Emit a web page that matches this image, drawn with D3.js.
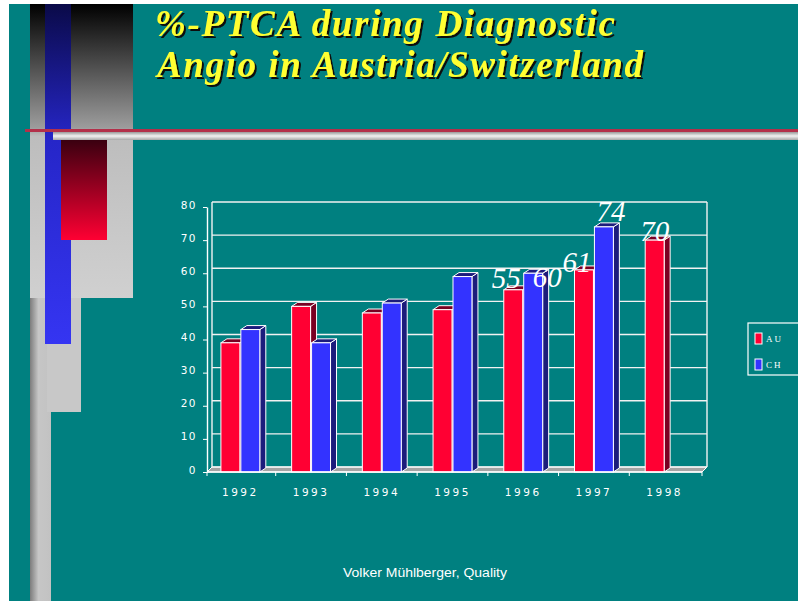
<!DOCTYPE html>
<html lang="en">
<head>
<meta charset="UTF-8">
<title>%-PTCA during Diagnostic Angio</title>
<style>
  body { margin: 0; background: #fff; }
  svg { display: block; }
</style>
</head>
<body>
<div id="slide"></div>
<script src="https://cdn.jsdelivr.net/npm/d3@7"></script>
<script>
// data
const years = ['1992', '1993', '1994', '1995', '1996', '1997', '1998'];
const seriesNames = ['AU', 'CH'];
const auValues = [39, 50, 48, 49, 55, 61, 70];
const chValues = [43, 39, 51, 59, 60, 74, null];
const yTicks = [0, 10, 20, 30, 40, 50, 60, 70, 80];
const labeled = [['1996', 'AU'], ['1996', 'CH'], ['1997', 'AU'], ['1997', 'CH'], ['1998', 'AU']];
const titleLines = ['%-PTCA  during Diagnostic', 'Angio in Austria/Switzerland'];
const footer = 'Volker Mühlberger, Quality';

// layout
const W = 798, H = 601;
const teal = '#008080';
const colors = { AU: '#ff0033', CH: '#3333ff' };
const darks = { AU: '#7a0022', CH: '#1c1c7c' };
const wall = { dx: 5, dy: 5 };
const depth = { dx: 6, dy: 4 };
// hand placed data labels in the original (dx, dy from bar top centre)
const labelNudge = [[-7, -2], [14, 14], [-7, 2], [7, -6], [0, 1]];

const values = { AU: auValues, CH: chValues };

const svg = d3.select('#slide').append('svg')
  .attr('width', W)
  .attr('height', H);

const defs = svg.append('defs');
function grad(id, stops, horizontal) {
  const g = defs.append('linearGradient').attr('id', id)
    .attr('x1', 0).attr('y1', 0)
    .attr('x2', horizontal ? 1 : 0).attr('y2', horizontal ? 0 : 1);
  stops.forEach(s => g.append('stop').attr('offset', s[0]).attr('stop-color', s[1]));
}
grad('gDark', [[0, '#000'], [0.42, '#9c9c9c'], [0.45, '#bdbdbd'], [1, '#d0d0d0']]);
grad('gCol', [[0, '#7c7c7c'], [0.4, '#c6c6c6'], [1, '#c2c2c2']], true);
grad('gBlue', [[0, '#0a0a48'], [0.4, '#2626c8'], [1, '#3535f2']]);
grad('gRed', [[0, '#3a0010'], [1, '#ff0033']]);
grad('gBand', [[0, '#9a9a9a'], [0.5, '#f2f2f2'], [1, '#a8a8a8']]);

defs.append('filter').attr('id', 'shadow')
  .attr('x', '-5%').attr('y', '-20%').attr('width', '110%').attr('height', '140%')
  .append('feDropShadow')
  .attr('dx', 2).attr('dy', 2).attr('stdDeviation', 0.4)
  .attr('flood-color', '#111').attr('flood-opacity', 1);

// slide background and template decoration
svg.append('rect').attr('width', W).attr('height', H).attr('fill', '#fff');
svg.append('rect').attr('x', 9).attr('y', 4).attr('width', W - 9).attr('height', H - 4).attr('fill', teal);
svg.append('rect').attr('x', 30).attr('y', 4).attr('width', 103).attr('height', 294).attr('fill', 'url(#gDark)');
svg.append('rect').attr('x', 30).attr('y', 298).attr('width', 21).attr('height', H - 298).attr('fill', 'url(#gCol)');
svg.append('rect').attr('x', 47).attr('y', 298).attr('width', 34).attr('height', 114).attr('fill', '#c8c8c8');
svg.append('rect').attr('x', 45).attr('y', 4).attr('width', 26).attr('height', 340).attr('fill', 'url(#gBlue)');
svg.append('rect').attr('x', 25).attr('y', 129).attr('width', W - 25).attr('height', 3).attr('fill', '#b3304a');
svg.append('rect').attr('x', 53).attr('y', 132).attr('width', W - 53).attr('height', 8).attr('fill', 'url(#gBand)');
svg.append('rect').attr('x', 61).attr('y', 140).attr('width', 46).attr('height', 100).attr('fill', 'url(#gRed)');

// title, yellow with a hard drop shadow
const title = svg.append('g')
  .attr('filter', 'url(#shadow)')
  .style('font-family', '"Liberation Serif", "Times New Roman", serif')
  .style('font-weight', 'bold')
  .style('font-style', 'italic')
  .style('font-size', '37px');
const titlePos = [[155, 36, 460], [157, 77, 486]];
titleLines.forEach((t, i) => {
  const [tx, ty, len] = titlePos[i];
  title.append('text').attr('x', tx).attr('y', ty)
    .attr('textLength', len).attr('lengthAdjust', 'spacing')
    .attr('fill', '#ffff33').text(t);
});

// scales
const x0 = 207, x1 = 702, yBase = 472;
const y = d3.scaleLinear().domain([0, 80]).range([yBase, 207]);
const x = d3.scaleBand().domain(years).range([x0 - 2, x1 - 2])
  .paddingInner(0.45).paddingOuter(0.225);
const xs = d3.scaleBand().domain(seriesNames).range([0, x.bandwidth()]).paddingInner(0.05);

const chart = svg.append('g');

// floor
chart.append('polygon')
  .attr('points', [[x0, yBase], [x1, yBase], [x1 + wall.dx, yBase - wall.dy], [x0 + wall.dx, yBase - wall.dy]].join(' '))
  .attr('fill', '#a4a4a4')
  .attr('stroke', '#fff')
  .attr('stroke-width', 1);

// back wall grid
chart.selectAll('line.grid').data(yTicks).join('line')
  .attr('class', 'grid')
  .attr('x1', x0 + wall.dx).attr('x2', x1 + wall.dx)
  .attr('y1', d => y(d) - wall.dy).attr('y2', d => y(d) - wall.dy)
  .attr('stroke', '#f2f2f2').attr('stroke-width', 1.4);
[x0 + wall.dx, x1 + wall.dx].forEach(wx => {
  chart.append('line')
    .attr('x1', wx).attr('x2', wx)
    .attr('y1', y(80) - wall.dy).attr('y2', y(0) - wall.dy)
    .attr('stroke', '#f2f2f2').attr('stroke-width', 1.4);
});

// bars
const bars = [];
years.forEach((yr, i) => {
  seriesNames.forEach(s => {
    const v = values[s][i];
    if (v == null) return;
    bars.push({ year: yr, series: s, value: v });
  });
});

const barG = chart.selectAll('g.bar').data(bars).join('g').attr('class', 'bar');
barG.each(function(d) {
  const g = d3.select(this);
  const bx = x(d.year) + xs(d.series);
  const bw = xs.bandwidth();
  const top = y(d.value);
  g.append('polygon')
    .attr('points', [[bx + bw, top], [bx + bw + depth.dx, top - depth.dy], [bx + bw + depth.dx, yBase - depth.dy], [bx + bw, yBase]].join(' '))
    .attr('fill', darks[d.series]).attr('stroke', '#fff').attr('stroke-width', 1);
  g.append('polygon')
    .attr('points', [[bx, top], [bx + depth.dx, top - depth.dy], [bx + bw + depth.dx, top - depth.dy], [bx + bw, top]].join(' '))
    .attr('fill', darks[d.series]).attr('stroke', '#fff').attr('stroke-width', 1);
  g.append('rect')
    .attr('x', bx).attr('y', top).attr('width', bw).attr('height', yBase - top)
    .attr('fill', colors[d.series]).attr('stroke', '#fff').attr('stroke-width', 1);
});

// left axis
const yAxis = chart.append('g')
  .attr('transform', `translate(${x0},0)`)
  .call(d3.axisLeft(y).tickValues(yTicks).tickSize(4).tickSizeOuter(0).tickPadding(6));
yAxis.select('.domain').attr('stroke', '#fff').attr('stroke-width', 1.4);
yAxis.selectAll('.tick line').attr('stroke', '#fff');
yAxis.selectAll('.tick text')
  .attr('fill', '#fff').attr('dy', '0.1em')
  .style('font-family', '"DejaVu Sans", sans-serif')
  .style('font-size', '10.5px')
  .style('letter-spacing', '1.5px');

// bottom axis: front edge, category ticks and year labels
chart.append('line')
  .attr('x1', x0).attr('x2', x1).attr('y1', yBase).attr('y2', yBase)
  .attr('stroke', '#fff').attr('stroke-width', 1.4);
const bounds = years.slice(1).map(yr => x(yr) - x.step() * x.paddingInner() / 2);
chart.selectAll('line.xtick').data([x0, ...bounds, x1]).join('line')
  .attr('class', 'xtick')
  .attr('x1', d => d).attr('x2', d => d)
  .attr('y1', yBase).attr('y2', yBase + 4)
  .attr('stroke', '#fff');
chart.selectAll('text.xlab').data(years).join('text')
  .attr('class', 'xlab')
  .attr('x', d => x(d) + x.bandwidth() / 2)
  .attr('y', 496)
  .attr('text-anchor', 'middle')
  .attr('fill', '#fff')
  .style('font-family', '"DejaVu Sans", sans-serif')
  .style('font-size', '10.5px')
  .style('letter-spacing', '2.5px')
  .text(d => d);

// data labels
chart.selectAll('text.vlab').data(labeled).join('text')
  .attr('class', 'vlab')
  .attr('x', (d, i) => x(d[0]) + xs(d[1]) + xs.bandwidth() / 2 + labelNudge[i][0])
  .attr('y', (d, i) => y(values[d[1]][years.indexOf(d[0])]) + labelNudge[i][1])
  .attr('text-anchor', 'middle')
  .attr('fill', '#fff')
  .style('font-family', '"Liberation Serif", "Times New Roman", serif')
  .style('font-style', 'italic')
  .style('font-size', '29px')
  .text(d => values[d[1]][years.indexOf(d[0])]);

// legend
const legend = svg.append('g');
legend.append('rect')
  .attr('x', 748).attr('y', 323).attr('width', 60).attr('height', 52)
  .attr('fill', 'none').attr('stroke', '#fff').attr('stroke-width', 1.2);
seriesNames.forEach((s, i) => {
  legend.append('rect')
    .attr('x', 755).attr('y', 333 + i * 26).attr('width', 7).attr('height', 11)
    .attr('fill', colors[s]).attr('stroke', '#fff').attr('stroke-width', 1);
  legend.append('text')
    .attr('x', 766).attr('y', 342 + i * 26)
    .attr('fill', '#fff')
    .style('font-family', '"Liberation Serif", serif')
    .style('font-size', '9px')
    .style('letter-spacing', '2px')
    .text(s);
});

// footer
svg.append('text')
  .attr('x', 343).attr('y', 577)
  .attr('textLength', 164).attr('lengthAdjust', 'spacingAndGlyphs')
  .attr('fill', '#fff')
  .style('font-family', '"Liberation Sans", Arial, sans-serif')
  .style('font-size', '12px')
  .text(footer);
</script>
</body>
</html>
